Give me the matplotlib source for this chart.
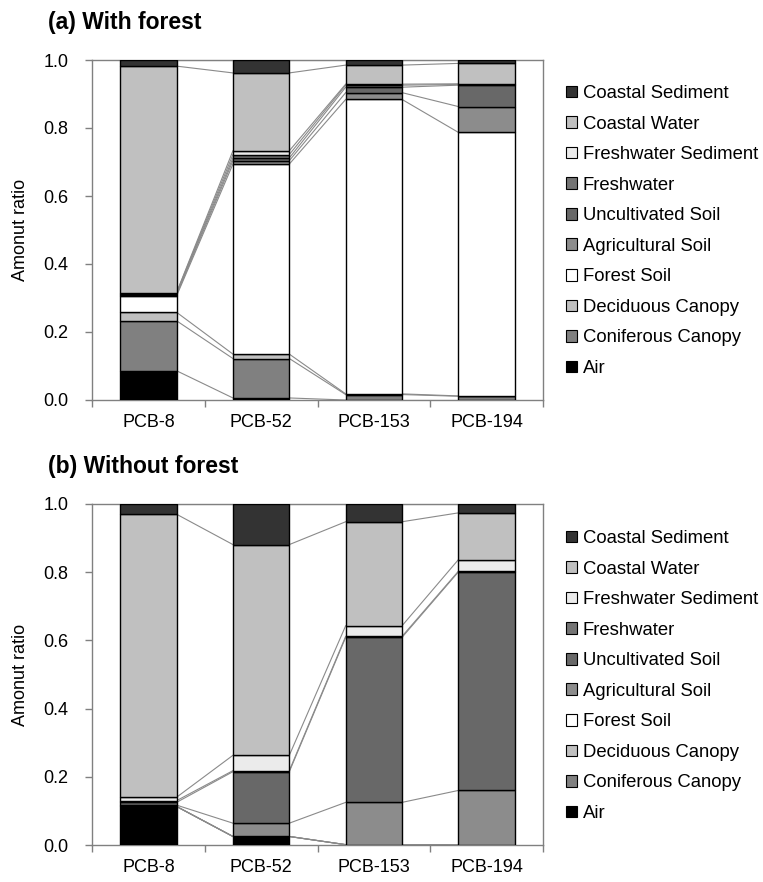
import matplotlib
matplotlib.use("Agg")
import matplotlib.pyplot as plt
from matplotlib.patches import Patch
import numpy as np

plt.rcParams['font.family'] = ['Liberation Sans', 'DejaVu Sans']

categories = ["PCB-8", "PCB-52", "PCB-153", "PCB-194"]
series_names = ["Air", "Coniferous Canopy", "Deciduous Canopy", "Forest Soil",
                "Agricultural Soil", "Uncultivated Soil", "Freshwater",
                "Freshwater Sediment", "Coastal Water", "Coastal Sediment"]

# (a) With forest: rows = series, columns = categories
with_air        = [0.086, 0.006, 0.000, 0.000]
with_conif      = [0.147, 0.116, 0.016, 0.011]
with_decid      = [0.025, 0.013, 0.002, 0.001]
with_forest     = [0.048, 0.559, 0.866, 0.775]
with_agri       = [0.004, 0.010, 0.020, 0.076]
with_uncult     = [0.003, 0.008, 0.016, 0.063]
with_fresh      = [0.002, 0.010, 0.006, 0.002]
with_fwsed      = [0.001, 0.011, 0.003, 0.002]
with_cwater     = [0.666, 0.229, 0.056, 0.060]
with_csed       = [0.018, 0.038, 0.015, 0.010]

# (b) Without forest
wo_air          = [0.113, 0.025, 0.001, 0.000]
wo_conif        = [0.000, 0.000, 0.000, 0.000]
wo_decid        = [0.000, 0.000, 0.000, 0.000]
wo_forest       = [0.000, 0.000, 0.000, 0.000]
wo_agri         = [0.004, 0.039, 0.124, 0.160]
wo_uncult       = [0.008, 0.151, 0.484, 0.641]
wo_fresh        = [0.005, 0.003, 0.003, 0.002]
wo_fwsed        = [0.010, 0.045, 0.031, 0.034]
wo_cwater       = [0.830, 0.618, 0.305, 0.137]
wo_csed         = [0.030, 0.119, 0.052, 0.026]

colors = ['#000000', '#808080', '#c0c0c0', '#ffffff', '#8c8c8c',
          '#686868', '#747474', '#ebebeb', '#c0c0c0', '#333333']

panels = [
    ("(a) With forest", [with_air, with_conif, with_decid, with_forest, with_agri,
                         with_uncult, with_fresh, with_fwsed, with_cwater, with_csed]),
    ("(b) Without forest", [wo_air, wo_conif, wo_decid, wo_forest, wo_agri,
                            wo_uncult, wo_fresh, wo_fwsed, wo_cwater, wo_csed]),
]

W, H = 763, 882
fig = plt.figure(figsize=(W / 100, H / 100), dpi=100)

ax_rects = [
    (92 / W, 1 - 400 / H, (543 - 92) / W, 340 / H),
    (92 / W, 1 - 845 / H, (543 - 92) / W, 341 / H),
]
title_y = [1 - 22 / H, 1 - 467 / H]
legend_top = [1 - 85 / H, 1 - 530 / H]

frame_col = '#808080'
bar_w = 0.5
x = np.arange(len(categories))

for p, ((title, data), rect) in enumerate(zip(panels, ax_rects)):
    ax = fig.add_axes(rect)
    vals = np.array(data)
    bottoms = np.zeros(len(categories))
    tops_all = []
    for i, (name, v) in enumerate(zip(series_names, vals)):
        ax.bar(x, v, bar_w, bottom=bottoms, color=colors[i], edgecolor='black',
               linewidth=1.0, label=name, zorder=3)
        bottoms = bottoms + v
        tops_all.append(bottoms.copy())
    # series lines
    for tops in tops_all:
        for j in range(len(categories) - 1):
            ax.plot([x[j] + bar_w / 2, x[j + 1] - bar_w / 2], [tops[j], tops[j + 1]],
                    color='#8a8a8a', linewidth=0.8, zorder=2)
    ax.set_xlim(-0.5, len(categories) - 0.5)
    ax.set_ylim(0, 1.0)
    ax.set_yticks([0, 0.2, 0.4, 0.6, 0.8, 1.0])
    ax.set_yticklabels(["0.0", "0.2", "0.4", "0.6", "0.8", "1.0"])
    ax.set_xticks(x)
    ax.set_xticklabels(categories)
    ax.set_xticks(np.arange(-0.5, len(categories), 1.0), minor=True)
    ax.tick_params(axis='x', which='major', length=0, pad=10, labelsize=13)
    ax.tick_params(axis='x', which='minor', length=5, color=frame_col, width=1)
    ax.tick_params(axis='y', length=5, color=frame_col, width=1, pad=12, labelsize=13)
    for s in ax.spines.values():
        s.set_color(frame_col)
        s.set_linewidth(1.0)
    ax.set_ylabel("Amonut ratio", fontsize=13, labelpad=10)
    fig.text(48 / W, title_y[p], title, fontsize=16.5, fontweight='bold',
             ha='left', va='center')
    leg_handles = [Patch(facecolor=colors[i], edgecolor='black', linewidth=0.8)
                   for i in range(len(series_names))][::-1]
    fig.legend(leg_handles, series_names[::-1], loc='upper left',
               bbox_to_anchor=(566 / W, legend_top[p]), frameon=False,
               fontsize=13.3, handlelength=0.6, handleheight=0.6,
               handletextpad=0.3, labelspacing=0.734, borderpad=0, borderaxespad=0)

fig.savefig("out.png", dpi=100)
